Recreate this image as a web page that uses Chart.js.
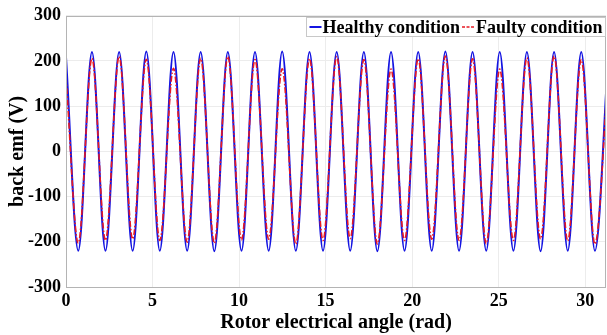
<!DOCTYPE html>
<html>
<head>
<meta charset="utf-8">
<script src="https://cdn.jsdelivr.net/npm/chart.js@4.4.1/dist/chart.umd.min.js"></script>
<style>
  html, body { margin: 0; padding: 0; background: #fff; }
  #wrap { position: relative; width: 607px; height: 335px; }
</style>
</head>
<body>
<div id="wrap"><canvas id="myChart"></canvas></div>
<script>
// rotor electrical angle (rad) at start, then every peak / trough
const angle = [0, 0.71, 1.50, 2.28, 3.07, 3.85, 4.64, 5.42, 6.21, 7.00, 7.78,
  8.57, 9.35, 10.14, 10.92, 11.71, 12.49, 13.28, 14.07, 14.85, 15.64,
  16.42, 17.21, 17.99, 18.78, 19.56, 20.35, 21.13, 21.92, 22.71, 23.49,
  24.28, 25.06, 25.85, 26.63, 27.42, 28.20, 28.99, 29.77, 30.56, 31.34];

// back emf (V), healthy machine
const healthy = [208, -220, 220, -220, 220, -220, 221, -220, 220, -220, 220,
  -221, 220, -220, 220, -220, 221, -220, 220, -220, 220,
  -220, 220, -221, 220, -220, 220, -220, 221, -220, 220,
  -220, 220, -220, 220, -221, 220, -220, 220, -220, 220];

// back emf (V), faulty machine
const faulty = [165, -203, 206, -197, 210, -194, 204, -197, 184, -201, 206,
  -203, 210, -196, 203, -194, 183, -205, 205, -197, 210,
  -193, 203, -205, 182, -197, 205, -194, 211, -197, 205,
  -204, 182, -197, 207, -194, 211, -198, 203, -205, 185];

const yTicks = [-300, -200, -100, 0, 100, 200, 300];
const xTicks = [0, 5, 10, 15, 20, 25, 30];
const seriesNames = ["Healthy condition", "Faulty condition"];

const serif = "'Liberation Serif', 'Times New Roman', serif";
const blue = "rgb(20, 20, 225)";
const red = "rgb(230, 25, 35)";
const redDash = [6, 2, 1.5, 2];

const toPoints = (ys) => angle.map((a, i) => ({ x: a, y: ys[i] }));

// axes box (top + right border too) and the boxed legend in the top right corner
const boxPlugin = {
  id: "boxPlugin",
  afterDraw(chart) {
    const { ctx, chartArea: ca } = chart;
    ctx.save();
    ctx.strokeStyle = "#b4b4b4";
    ctx.lineWidth = 1;
    ctx.strokeRect(Math.round(ca.left) + 0.5, Math.round(ca.top) + 0.5,
      Math.round(ca.right - ca.left) - 1, Math.round(ca.bottom - ca.top));

    ctx.font = "bold 18px " + serif;
    ctx.textBaseline = "middle";
    const lineLen = 12;
    const w0 = ctx.measureText(seriesNames[0]).width;
    const w1 = ctx.measureText(seriesNames[1]).width;
    const boxW = 3 + lineLen + 1 + w0 + 2 + lineLen + 2 + w1 + 3;
    const boxH = 19;
    const bx = Math.round(ca.right - 1 - boxW) + 0.5;
    const by = Math.round(ca.top + 1) + 0.5;
    ctx.fillStyle = "#fff";
    ctx.fillRect(bx, by, boxW, boxH);
    ctx.strokeStyle = "#c8c8c8";
    ctx.strokeRect(bx, by, boxW, boxH);

    const cy = by + boxH / 2;
    let x = bx + 3;
    ctx.strokeStyle = blue;
    ctx.lineWidth = 2;
    ctx.beginPath();
    ctx.moveTo(x, cy);
    ctx.lineTo(x + lineLen, cy);
    ctx.stroke();
    x += lineLen + 1;
    ctx.fillStyle = "#000";
    ctx.fillText(seriesNames[0], x, cy + 1);
    x += w0 + 2;
    ctx.strokeStyle = red;
    ctx.lineWidth = 1.5;
    ctx.setLineDash([3, 1.5]);
    ctx.beginPath();
    ctx.moveTo(x, cy);
    ctx.lineTo(x + lineLen, cy);
    ctx.stroke();
    ctx.setLineDash([]);
    x += lineLen + 2;
    ctx.fillText(seriesNames[1], x, cy + 1);
    ctx.restore();
  },
};

const ctx = document.getElementById("myChart");

new Chart(ctx, {
  type: "line",
  data: {
    datasets: [
      {
        label: seriesNames[0],
        data: toPoints(healthy),
        borderColor: blue,
        borderWidth: 2,
        pointRadius: 0,
        cubicInterpolationMode: "monotone",
        order: 1,
      },
      {
        label: seriesNames[1],
        data: toPoints(faulty),
        borderColor: red,
        borderWidth: 1.6,
        borderDash: redDash,
        pointRadius: 0,
        cubicInterpolationMode: "monotone",
        order: 0,
      },
    ],
  },
  options: {
    responsive: true,
    maintainAspectRatio: false,
    animation: false,
    devicePixelRatio: 1,
    layout: { padding: { top: 15, right: 1, bottom: 0, left: 0 } },
    plugins: {
      legend: { display: false },
      tooltip: { enabled: false },
    },
    scales: {
      x: {
        type: "linear",
        min: 0,
        max: 31.2,
        afterFit: (scale) => { scale.height = 48; },
        afterBuildTicks: (scale) => { scale.ticks = xTicks.map((v) => ({ value: v })); },
        ticks: {
          color: "#000",
          font: { family: serif, size: 18, weight: "bold" },
          padding: 4,
          maxRotation: 0,
        },
        grid: { color: "#ececec", drawTicks: false },
        border: { display: false },
        title: {
          display: true,
          text: "Rotor electrical angle (rad)",
          color: "#000",
          font: { family: serif, size: 20, weight: "bold" },
          padding: { top: 0, bottom: 0 },
        },
      },
      y: {
        min: -300,
        max: 300,
        afterFit: (scale) => { scale.width = 66; },
        afterBuildTicks: (scale) => { scale.ticks = yTicks.map((v) => ({ value: v })); },
        ticks: {
          color: "#000",
          font: { family: serif, size: 18, weight: "bold" },
          padding: 5,
        },
        grid: { color: "#ececec", drawTicks: false },
        border: { display: false },
        title: {
          display: true,
          text: "back emf (V)",
          color: "#000",
          font: { family: serif, size: 20, weight: "bold" },
          padding: { top: 6, bottom: 0 },
        },
      },
    },
  },
  plugins: [boxPlugin],
});
</script>
</body>
</html>
